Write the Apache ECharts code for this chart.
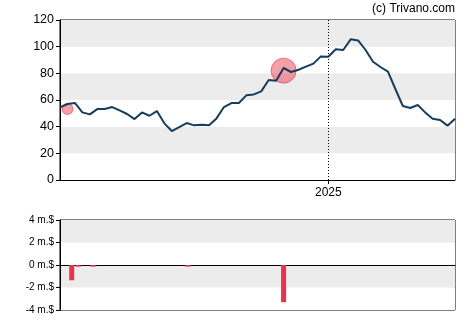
<!DOCTYPE html>
<html>
<head>
<meta charset="utf-8">
<script src="https://cdn.jsdelivr.net/npm/echarts@6/dist/echarts.min.js"></script>
<style>
html,body{margin:0;padding:0;background:#fff;}
#chart{width:470px;height:325px;}
</style>
</head>
<body>
<div id="chart"></div>
<script>
// ---- data ----
const startDate = '2024-04-24';
const endDate = '2025-04-30';
const yearMark = '2025-01-01';
const prices = [54.5, 57, 57.8, 50.7, 49.2, 53.2, 53.2, 54.7, 52.2, 49.5, 45.7, 50.7, 48.2, 51.7,
  42.5, 36.7, 39.7, 42.7, 41, 41.5, 41, 46.2, 54.7, 57.7, 57.7, 63.5, 64.2, 66.5, 75, 74.5,
  84, 81, 82.7, 85, 87.3, 92.7, 92.5, 98, 97.5, 105.5, 104.7, 97.5, 88.7, 84.75, 81.3, 68.25,
  55.5, 54, 56.25, 50.7, 46, 45, 40.75, 46];
const circleDates = ['2024-05-01', '2024-11-20'];
const circleValues = [53.3, 82];
const tradeDates = ['2024-05-05', '2024-05-11', '2024-05-25', '2024-08-22', '2024-11-20'];
const tradeValues = [-1.36, -0.15, -0.15, -0.15, -3.3];
const priceTicks = [0, 20, 40, 60, 80, 100, 120];
const volumeTicks = [-4, -2, 0, 2, 4];

// ---- categories ----
function fmt(d){ return d.toISOString().slice(0,10); }
function dateRange(a, b, step){
  const out = [];
  let d = new Date(a + 'T00:00:00Z');
  const e = new Date(b + 'T00:00:00Z');
  while (d <= e) { out.push(fmt(d)); d = new Date(d.getTime() + step*86400000); }
  return out;
}
const weeks = dateRange(startDate, endDate, 7);
const days = dateRange(startDate, endDate, 1);
const barData = days.map(d => { const i = tradeDates.indexOf(d); return i >= 0 ? tradeValues[i] : null; });
const circleData = circleDates.map((d, i) => [d, circleValues[i]]);
const isYear = (idx, val) => val === yearMark;

const font = 'Arial, "Liberation Sans", sans-serif';
const chart = echarts.init(document.getElementById('chart'), null, {renderer: 'canvas'});
chart.setOption({
  animation: false,
  backgroundColor: '#fff',
  graphic: [{
    type: 'text', right: 15, top: 3,
    style: {text: '(c) Trivano.com', fill: '#000', font: '12px ' + font, textAlign: 'right'}
  }],
  grid: [
    {left: 60, right: 15, top: 20, height: 160, show: true, borderColor: '#000', borderWidth: 1, backgroundColor: 'transparent'},
    {left: 60, right: 15, top: 220, height: 90, show: true, borderColor: '#000', borderWidth: 1, backgroundColor: 'transparent'}
  ],
  xAxis: [
    {
      type: 'category', gridIndex: 0, data: weeks, boundaryGap: false,
      axisLine: {show: true, lineStyle: {color: '#000', width: 1}},
      axisTick: {show: true, interval: isYear, length: 4, lineStyle: {color: '#000'}},
      axisLabel: {show: true, interval: isYear, formatter: v => v.slice(0,4), color: '#000', fontSize: 12, fontFamily: font, margin: 7},
      splitLine: {show: true, interval: isYear, lineStyle: {color: '#000', type: [1, 2], width: 1}}
    },
    {
      type: 'category', gridIndex: 1, data: days, boundaryGap: false,
      axisLine: {show: true, onZero: true, lineStyle: {color: '#000', width: 1}},
      axisTick: {show: false}, axisLabel: {show: false}, splitLine: {show: false}
    }
  ],
  yAxis: [
    {
      type: 'value', gridIndex: 0, min: priceTicks[0], max: priceTicks[priceTicks.length-1], interval: 20,
      axisLine: {show: true, lineStyle: {color: '#000', width: 1}},
      axisTick: {show: true, length: 4, lineStyle: {color: '#000'}},
      axisLabel: {color: '#000', fontSize: 12.5, fontFamily: font, margin: 6},
      splitLine: {show: false},
      splitArea: {show: true, areaStyle: {color: ['#ffffff', '#ececec']}}
    },
    {
      type: 'value', gridIndex: 1, min: volumeTicks[0], max: volumeTicks[volumeTicks.length-1], interval: 2,
      axisLine: {show: true, lineStyle: {color: '#000', width: 1}},
      axisTick: {show: true, length: 4, lineStyle: {color: '#000'}},
      axisLabel: {color: '#000', fontSize: 10, fontFamily: font, margin: 6, formatter: v => v + ' m.$'},
      splitLine: {show: false},
      splitArea: {show: true, areaStyle: {color: ['#ffffff', '#ececec']}}
    }
  ],
  series: [
    {
      type: 'scatter', xAxisIndex: 0, yAxisIndex: 0, data: circleData, z: 2,
      symbolSize: (v, p) => p.dataIndex === 0 ? 11 : 25,
      itemStyle: {color: 'rgba(238,48,70,0.58)', borderColor: 'rgba(225,40,60,0.7)', borderWidth: 1}
    },
    {
      type: 'line', xAxisIndex: 0, yAxisIndex: 0, data: prices, z: 3,
      symbol: 'none', lineStyle: {color: '#163d5c', width: 2}
    },
    {
      type: 'bar', xAxisIndex: 1, yAxisIndex: 1, data: barData, barWidth: 5, z: 3,
      itemStyle: {color: '#f0304a'}
    }
  ]
});
</script>
</body>
</html>
